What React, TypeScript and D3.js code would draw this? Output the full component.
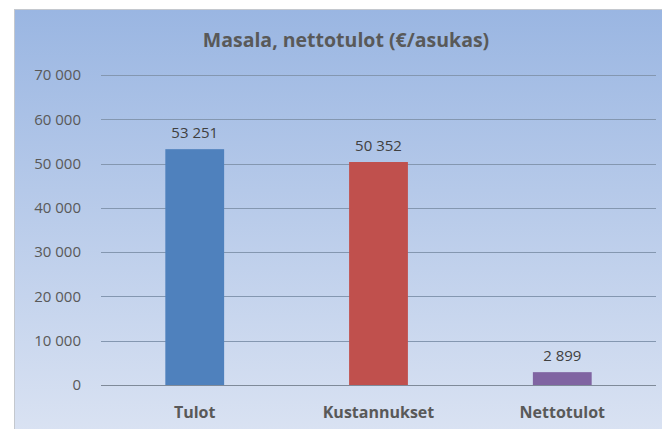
import React, { useEffect, useRef } from "react";
import * as d3 from "d3";

const categories = ["Tulot", "Kustannukset", "Nettotulot"];
const values = [53251, 50352, 2899];
const barColors = ["#4F81BD", "#C0504D", "#8064A2"];
const yTicks = [0, 10000, 20000, 30000, 40000, 50000, 60000, 70000];
const title = "Masala, nettotulot (€/asukas)";

const fmt = (v: number) =>
  String(v).replace(/\B(?=(\d{3})+(?!\d))/g, " ");

const App = () => {
  const svgRef = useRef<SVGSVGElement | null>(null);
  const svgWidth = 662;
  const svgHeight = 429;
  const margin = { top: 75, right: 6, bottom: 44, left: 101 };

  useEffect(() => {
    const innerWidth = svgWidth - margin.left - margin.right;
    const innerHeight = svgHeight - margin.top - margin.bottom;

    const svg = d3.select(svgRef.current);
    svg.selectAll("*").remove();

    const gradient = svg
      .append("defs")
      .append("linearGradient")
      .attr("id", "bgGrad")
      .attr("x1", "0%")
      .attr("x2", "0%")
      .attr("y1", "0%")
      .attr("y2", "100%");
    gradient.append("stop").attr("offset", "0%").attr("stop-color", "#9AB6E2");
    gradient.append("stop").attr("offset", "100%").attr("stop-color", "#DCE4F3");

    svg
      .append("rect")
      .attr("x", 14.5)
      .attr("y", 9.5)
      .attr("width", 660)
      .attr("height", 440)
      .attr("fill", "url(#bgGrad)")
      .attr("stroke", "#C4C8CE")
      .attr("stroke-width", 1);

    svg
      .append("text")
      .attr("x", 346)
      .attr("y", 47)
      .attr("text-anchor", "middle")
      .attr("font-family", "'Open Sans', sans-serif")
      .attr("font-weight", "bold")
      .attr("font-size", 19.5)
      .attr("fill", "#595959")
      .text(title);

    const xScale = d3
      .scaleBand()
      .domain(categories)
      .range([0, innerWidth])
      .paddingInner(0.68)
      .paddingOuter(0.35);

    const yScale = d3.scaleLinear().domain([0, 70000]).range([innerHeight, 0]);

    const g = svg
      .append("g")
      .attr("transform", `translate(${margin.left},${margin.top})`);

    const yAxis = d3
      .axisLeft(yScale)
      .tickValues(yTicks)
      .tickSize(-innerWidth)
      .tickPadding(20)
      .tickFormat((d) => fmt(d as number));

    const yAxisG = g.append("g").call(yAxis);
    yAxisG.select(".domain").remove();
    yAxisG
      .selectAll(".tick line")
      .attr("stroke", "#8497B0")
      .attr("stroke-width", 1)
      .attr("shape-rendering", "crispEdges");
    yAxisG
      .selectAll(".tick text")
      .attr("font-family", "'Open Sans', sans-serif")
      .attr("font-size", 15)
      .attr("fill", "#595959");

    g.selectAll("rect.bar")
      .data(values)
      .enter()
      .append("rect")
      .attr("class", "bar")
      .attr("x", (_, i) => xScale(categories[i])!)
      .attr("y", (d) => yScale(d))
      .attr("width", xScale.bandwidth())
      .attr("height", (d) => innerHeight - yScale(d))
      .attr("fill", (_, i) => barColors[i]);

    g.append("line")
      .attr("x1", 0)
      .attr("x2", innerWidth)
      .attr("y1", innerHeight + 0.5)
      .attr("y2", innerHeight + 0.5)
      .attr("stroke", "#7F8A99")
      .attr("stroke-width", 1);

    g.selectAll("text.value")
      .data(values)
      .enter()
      .append("text")
      .attr("class", "value")
      .attr("x", (_, i) => xScale(categories[i])! + xScale.bandwidth() / 2)
      .attr("y", (d) => yScale(d) - 11)
      .attr("text-anchor", "middle")
      .attr("font-family", "'Open Sans', sans-serif")
      .attr("font-size", 15)
      .attr("fill", "#404040")
      .text((d) => fmt(d));

    g.selectAll("text.cat")
      .data(categories)
      .enter()
      .append("text")
      .attr("class", "cat")
      .attr("x", (d) => xScale(d)! + xScale.bandwidth() / 2)
      .attr("y", innerHeight + 33)
      .attr("text-anchor", "middle")
      .attr("font-family", "'Open Sans', sans-serif")
      .attr("font-weight", "bold")
      .attr("font-size", 16)
      .attr("fill", "#595959")
      .text((d) => d);
  }, []);

  return (
    <svg
      ref={svgRef}
      width={svgWidth}
      height={svgHeight}
      style={{ position: "absolute", left: 0, top: 0, background: "#fff" }}
    ></svg>
  );
};

export default App;
